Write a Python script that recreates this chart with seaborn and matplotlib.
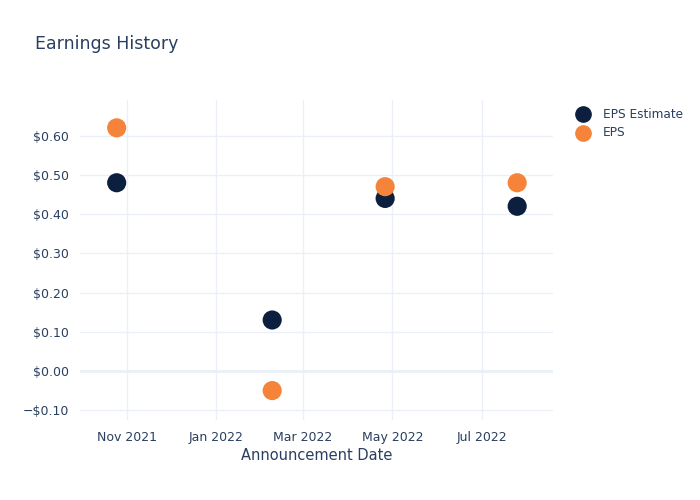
import matplotlib
matplotlib.use("Agg")
import matplotlib.pyplot as plt
import matplotlib.dates as mdates
import matplotlib.ticker as mticker
import seaborn as sns
import pandas as pd

dates = ["2021-10-25", "2022-02-08", "2022-04-26", "2022-07-25"]
eps_estimate = [0.48, 0.13, 0.44, 0.42]
eps_actual = [0.62, -0.05, 0.47, 0.48]
series_names = ["EPS Estimate", "EPS"]
colors = ["#0d1f3f", "#f5843a"]

df = pd.DataFrame({
    "date": pd.to_datetime(dates * 2),
    "value": eps_estimate + eps_actual,
    "series": [series_names[0]] * len(dates) + [series_names[1]] * len(dates),
})

sns.set_theme(style="white")
plt.rcParams["font.family"] = ["DejaVu Sans"]
text_color = "#2a3f5f"
grid_color = "#ebf0f8"

fig = plt.figure(figsize=(7, 5), dpi=100)
ax = fig.add_axes([80 / 700, 80 / 500, (553 - 80) / 700, 320 / 500])

sns.scatterplot(data=df, x="date", y="value", hue="series",
                palette=dict(zip(series_names, colors)), s=190,
                edgecolor="none", ax=ax, zorder=3, legend=False)

ax.set_xlim(pd.Timestamp("2021-09-30"), pd.Timestamp("2022-08-18 10:00"))
ax.set_ylim(-0.125, 0.691)
ax.xaxis.set_major_locator(mdates.MonthLocator(bymonth=[1, 3, 5, 7, 11]))
ax.xaxis.set_major_formatter(mdates.DateFormatter("%b %Y"))
ax.set_yticks([-0.1, 0.0, 0.1, 0.2, 0.3, 0.4, 0.5, 0.6])
ax.yaxis.set_major_formatter(mticker.FuncFormatter(
    lambda v, p: ("\u2212$%.2f" % abs(v)) if v < -1e-9 else "$%.2f" % abs(v)))

ax.grid(True, color=grid_color, linewidth=1)
ax.axhline(0, color=grid_color, linewidth=2, zorder=1)
for s in ax.spines.values():
    s.set_visible(False)
ax.tick_params(axis="both", length=0, labelsize=9, colors=text_color, pad=8)
ax.set_xlabel("Announcement Date", fontsize=10.5, color=text_color, labelpad=3)
ax.set_ylabel("")

fig.text(35 / 700, 1 - 44 / 500, "Earnings History", fontsize=12.5,
         color=text_color, va="center", ha="left")

for i, (name, c) in enumerate(zip(series_names, colors)):
    y = 1 - (114 + 19 * i) / 500
    fig.add_artist(plt.Line2D([583 / 700], [y], marker="o", markersize=11,
                              color=c, linestyle="none", transform=fig.transFigure))
    fig.text(603 / 700, y, name, fontsize=8.7, color=text_color, va="center", ha="left")

fig.savefig("out.png", dpi=100, facecolor="white")
